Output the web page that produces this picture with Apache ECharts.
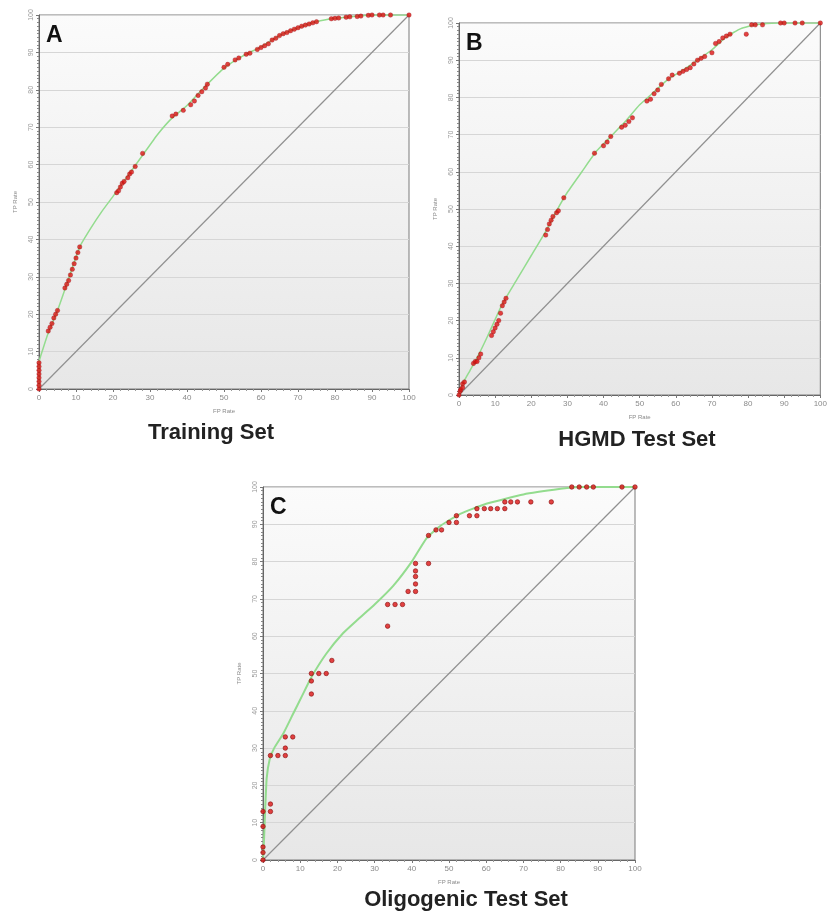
<!DOCTYPE html>
<html>
<head>
<meta charset="utf-8">
<script src="https://cdn.jsdelivr.net/npm/echarts@6/dist/echarts.min.js"></script>
<style>
  html, body { margin: 0; padding: 0; background: #fff; }
  #main { width: 830px; height: 912px; }
</style>
</head>
<body>
<div id="main"></div>
<script>
// tick labels
var rateTicks = [0, 10, 20, 30, 40, 50, 60, 70, 80, 90, 100];
var panelTitles = ['Training Set', 'HGMD Test Set', 'Oligogenic Test Set'];
var panelLetters = ['A', 'B', 'C'];

// diagonal reference line (random classifier)
var diagonal = [[0, 0], [100, 100]];

// A - training set: points [FP rate, TP rate]
var trainPoints = [
  [0, 0], [0, 1], [0, 2], [0, 3], [0, 4], [0, 5], [0, 6], [0, 7],
  [2.5, 15.5], [3, 16.5], [3.5, 17.5], [4, 19], [4.5, 20], [5, 21],
  [7, 27], [7.5, 28], [8, 29], [8.5, 30.5], [9, 32], [9.5, 33.5], [10, 35], [10.5, 36.5], [11, 38],
  [21, 52.5], [21.5, 53], [22, 54], [22.5, 55], [23, 55.5], [24, 56.5], [24.5, 57.5], [25, 58], [26, 59.5],
  [28, 63],
  [36, 73], [37, 73.5], [39, 74.5], [41, 76], [42, 77], [43, 78.5], [44, 79.5], [45, 80.5], [45.5, 81.5],
  [50, 86], [51, 86.8], [53, 88], [54, 88.5], [56, 89.5], [57, 89.8], [59, 90.8], [60, 91.3], [61, 91.8],
  [62, 92.3], [63, 93.3], [64, 93.8], [65, 94.5], [66, 95], [67, 95.3], [68, 95.8], [69, 96.2], [70, 96.6],
  [71, 97], [72, 97.3], [73, 97.6], [74, 97.9], [75, 98.2],
  [79, 99], [80, 99.1], [81, 99.2], [83, 99.4], [84, 99.5], [86, 99.6], [87, 99.7], [89, 99.9],
  [90, 100], [92, 100], [93, 100], [95, 100], [100, 100]
];
var trainCurve = [
  [0, 0], [0, 7], [1, 10.5], [2.5, 15], [5, 21], [8, 29.5], [11, 38], [14, 43], [17, 47.5], [20, 51.5],
  [24, 57], [28, 62.5], [32, 68], [36, 72.5], [40, 75.8], [45, 81], [50, 85.8], [55, 89], [60, 91.5],
  [65, 94.5], [70, 96.6], [75, 98.2], [80, 99.1], [85, 99.6], [90, 100], [100, 100]
];

// B - HGMD test set
var hgmdPoints = [
  [0, 0], [0.3, 1], [0.5, 1.5], [1, 2], [1, 3], [1.5, 3.5],
  [4, 8.5], [4.5, 9], [5, 9], [5.5, 10], [6, 11],
  [9, 16], [9.5, 17], [10, 18], [10.5, 19], [11, 20], [11.5, 22], [12, 24], [12.5, 25], [13, 26],
  [24, 43], [24.5, 44.5], [25, 46], [25.5, 47], [26, 48], [27, 49], [27.5, 49.5],
  [29, 53], [37.5, 65], [40, 67], [41, 68], [42, 69.5],
  [45, 72], [46, 72.5], [47, 73.5], [48, 74.5], [52, 79], [53, 79.5],
  [54, 81], [55, 82], [56, 83.5], [58, 85], [59, 86], [61, 86.5], [62, 87], [63, 87.5], [64, 88],
  [65, 89], [66, 90], [67, 90.5], [68, 91], [70, 92],
  [71, 94.5], [72, 95], [73, 96], [74, 96.5], [75, 97], [79.5, 97],
  [81, 99.5], [82, 99.5], [84, 99.5], [89, 100], [90, 100], [93, 100], [95, 100], [100, 100]
];
var hgmdCurve = [
  [0, 0], [1, 3], [3, 6.5], [5, 10], [8, 16], [12, 24.5], [16, 31], [20, 37.5], [24, 44], [27, 49.5],
  [30, 54.5], [34, 60], [38, 65.5], [42, 69.5], [46, 73.5], [50, 78], [54, 81.5], [58, 85], [62, 87.3],
  [66, 90], [70, 92.8], [74, 96.3], [78, 98.5], [82, 99.5], [88, 100], [100, 100]
];

// C - oligogenic test set
var oligoPoints = [
  [0, 0], [0, 2], [0, 3.5], [0, 9], [0, 13], [2, 13], [2, 15],
  [2, 28], [4, 28], [6, 28], [6, 30], [6, 33], [8, 33],
  [13, 44.5], [13, 48], [13, 50], [15, 50], [17, 50], [18.5, 53.5],
  [33.5, 62.7], [33.5, 68.5], [35.5, 68.5], [37.5, 68.5],
  [39, 72], [41, 72], [41, 74], [41, 76], [41, 77.5], [41, 79.5], [44.5, 79.5],
  [44.5, 87], [46.5, 88.5], [48, 88.5], [50, 90.5], [52, 90.5], [52, 92.3], [55.5, 92.3], [57.5, 92.3],
  [57.5, 94.2], [59.5, 94.2], [61.2, 94.2], [63, 94.2], [65, 94.2],
  [65, 96], [66.6, 96], [68.4, 96], [72, 96], [77.5, 96],
  [83, 100], [85, 100], [87, 100], [88.8, 100], [96.5, 100], [100, 100]
];
var oligoCurve = [
  [0, 0], [0.3, 6], [0.6, 14], [1, 22], [1.8, 27], [3, 30], [5.5, 34], [8, 39], [10.5, 44], [13, 49],
  [17, 55.3], [21.5, 60.8], [25.5, 64.5], [30, 68.5], [35, 73.5], [40, 80], [44, 86.3], [48, 89.8],
  [53, 92.8], [60, 95.5], [70, 98], [80, 99.5], [85, 100], [100, 100]
];

// plot boxes [left, top, width, height]
var boxes = [
  [39, 15, 370, 374],
  [459, 23, 370, 372],
  [263, 487, 372, 373]
];
// title centres [x, y]
var titlePos = [[211, 433], [637, 440], [466, 900]];

var chart = echarts.init(document.getElementById('main'), null, { renderer: 'canvas' });

var bg = new echarts.graphic.LinearGradient(0, 0, 0, 1, [
  { offset: 0, color: '#fbfbfb' },
  { offset: 1, color: '#e7e7e7' }
]);

var grids = [], xAxes = [], yAxes = [], series = [], graphics = [];
var pointSets = [trainPoints, hgmdPoints, oligoPoints];
var curveSets = [trainCurve, hgmdCurve, oligoCurve];

boxes.forEach(function (b, i) {
  grids.push({
    left: b[0], top: b[1], width: b[2], height: b[3],
    show: true, backgroundColor: bg, borderColor: '#7a7a7a', borderWidth: 1
  });
  xAxes.push({
    gridIndex: i, type: 'value', min: 0, max: 100, interval: 10,
    name: 'FP Rate', nameLocation: 'middle', nameGap: 19,
    nameTextStyle: { fontSize: 6, color: '#8a8a8a' },
    axisLine: { lineStyle: { color: '#666' } },
    axisTick: { show: true, length: 3, lineStyle: { color: '#777' } },
    minorTick: { show: true, splitNumber: 5, length: 2, lineStyle: { color: '#999' } },
    axisLabel: { fontSize: 8, color: '#8a8a8a', margin: 5,
      formatter: function (v) { return rateTicks.indexOf(v) >= 0 ? v : ''; } },
    splitLine: { show: false }
  });
  yAxes.push({
    gridIndex: i, type: 'value', min: 0, max: 100, interval: 10,
    name: 'TP Rate', nameLocation: 'middle', nameGap: 21,
    nameTextStyle: { fontSize: 6, color: '#8a8a8a' },
    axisLine: { lineStyle: { color: '#666' } },
    axisTick: { show: true, length: 3, lineStyle: { color: '#777' } },
    minorTick: { show: true, splitNumber: 10, length: 2, lineStyle: { color: '#888' } },
    axisLabel: { fontSize: 7, color: '#999', margin: 4, rotate: 90 },
    splitLine: { show: true, lineStyle: { color: '#d6d6d6', width: 1 } }
  });
  series.push({
    type: 'line', xAxisIndex: i, yAxisIndex: i, data: diagonal,
    showSymbol: false, silent: true,
    lineStyle: { color: '#909090', width: 1.2 }, z: 2
  });
  series.push({
    type: 'line', xAxisIndex: i, yAxisIndex: i, data: curveSets[i],
    showSymbol: false, smooth: 0.15, silent: true,
    lineStyle: { color: '#93dc8e', width: i == 2 ? 2 : 1.5 }, z: 3
  });
  series.push({
    type: 'scatter', xAxisIndex: i, yAxisIndex: i, data: pointSets[i],
    symbolSize: 4.5,
    itemStyle: { color: '#dd1414', borderColor: '#8a1010', borderWidth: i == 2 ? 0.8 : 0.4 },
    z: 4
  });
  graphics.push({
    type: 'text', x: b[0] + 7, y: b[1] + 9,
    style: { text: panelLetters[i], font: 'bold 23px "Liberation Sans", Arial, sans-serif', fill: '#111' },
    z: 10
  });
  graphics.push({
    type: 'text', x: titlePos[i][0], y: titlePos[i][1],
    style: {
      text: panelTitles[i], font: 'bold 22px "Liberation Sans", Arial, sans-serif', fill: '#222',
      textAlign: 'center', textVerticalAlign: 'middle'
    },
    z: 10
  });
});

var option = {
  backgroundColor: '#fff',
  animation: false,
  grid: grids,
  xAxis: xAxes,
  yAxis: yAxes,
  series: series,
  graphic: graphics
};

chart.setOption(option);
</script>
</body>
</html>
